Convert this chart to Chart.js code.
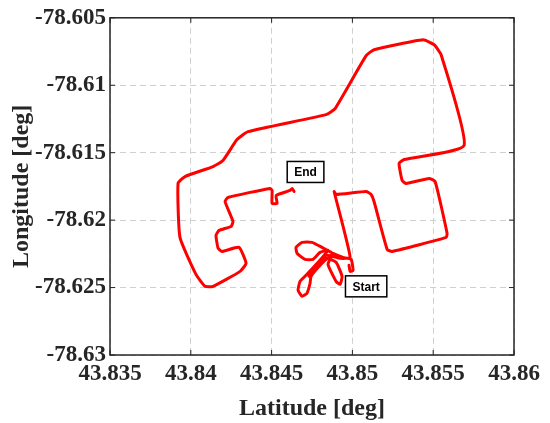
<!DOCTYPE html>
<html>
<head>
<meta charset="utf-8">
<script src="https://cdn.jsdelivr.net/npm/chart.js@4"></script>
<style>
  body { margin: 0; background: #fff; }
  #wrap { width: 550px; height: 423px; position: relative; }
</style>
</head>
<body>
<div id="wrap"><canvas id="trackChart"></canvas></div>
<script>
// GPS track
const latitude = [
  43.84979, 43.84986, 43.85004, 43.84992, 43.84942, 43.84880, 43.84812, 43.84750,
  43.84689, 43.84651, 43.84658, 43.84707, 43.84757, 43.84800, 43.84849,
  43.84788, 43.84713, 43.84676, 43.84664, 43.84689, 43.84719, 43.84738, 43.84744,
  43.84812, 43.84874,
  43.84849, 43.84899, 43.84924, 43.84936, 43.84899, 43.84837,
  43.84763, 43.84732, 43.84775, 43.84837, 43.84924, 43.84986,
  43.84887, 43.84899, 43.85085, 43.85116, 43.85134, 43.85215, 43.85246,
  43.85580, 43.85586, 43.85512, 43.85475, 43.85332, 43.85308, 43.85289, 43.85320,
  43.85691, 43.85549, 43.85506, 43.85437, 43.85134, 43.85085, 43.84893, 43.84837,
  43.84354, 43.84286, 43.84199, 43.84138, 43.83964, 43.83921, 43.83933, 43.84032,
  43.84088, 43.84138, 43.84305, 43.84342, 43.84298, 43.84193, 43.84169, 43.84156,
  43.84175, 43.84249, 43.84261, 43.84212, 43.84230, 43.84490, 43.84503, 43.84503,
  43.84534, 43.84528, 43.84614, 43.84627, 43.84639
];
const longitude = [
  -78.62335, -78.62380, -78.62372, -78.62291, -78.62276, -78.62246, -78.62202, -78.62165,
  -78.62165, -78.62202, -78.62246, -78.62291, -78.62291, -78.62239, -78.62224,
  -78.62313, -78.62409, -78.62454, -78.62520, -78.62565, -78.62542, -78.62468, -78.62417,
  -78.62320, -78.62254,
  -78.62328, -78.62454, -78.62476, -78.62417, -78.62313, -78.62283,
  -78.62372, -78.62417, -78.62343, -78.62261, -78.62283, -78.62276,
  -78.61788, -78.61810, -78.61788, -78.61810, -78.61862, -78.62217, -78.62232,
  -78.62128, -78.62098, -78.61714, -78.61691, -78.61728, -78.61706, -78.61580, -78.61551,
  -78.61447, -78.60774, -78.60700, -78.60663, -78.60737, -78.60781, -78.61173, -78.61218,
  -78.61344, -78.61403, -78.61558, -78.61603, -78.61677, -78.61728, -78.62128, -78.62402,
  -78.62491, -78.62491, -78.62380, -78.62320, -78.62202, -78.62232, -78.62209, -78.62113,
  -78.62076, -78.62047, -78.62010, -78.61862, -78.61832, -78.61765, -78.61780, -78.61876,
  -78.61876, -78.61817, -78.61780, -78.61765, -78.61788
];

const xTickValues = [43.835, 43.84, 43.845, 43.85, 43.855, 43.86];
const xTickLabels = ['43.835', '43.84', '43.845', '43.85', '43.855', '43.86'];
const yTickValues = [-78.63, -78.625, -78.62, -78.615, -78.61, -78.605];
const yTickLabels = ['-78.63', '-78.625', '-78.62', '-78.615', '-78.61', '-78.605'];

const noteText = ['End', 'Start'];
const noteLat = [43.84710, 43.85085];
const noteLon = [-78.61643, -78.62491];

const serif = "'Liberation Serif', 'Times New Roman', serif";
const ink = '#262626';

const points = latitude.map((lat, i) => ({ x: lat, y: longitude[i] }));

// frame, inward ticks and the two text boxes
const framePlugin = {
  id: 'frame',
  afterDraw(chart) {
    const { ctx, chartArea: a, scales } = chart;
    ctx.save();
    ctx.strokeStyle = ink;
    ctx.lineWidth = 1.5;
    ctx.strokeRect(a.left, a.top, a.right - a.left, a.bottom - a.top);
    ctx.lineWidth = 1;
    ctx.beginPath();
    xTickValues.forEach(v => {
      const px = scales.x.getPixelForValue(v);
      ctx.moveTo(px, a.bottom); ctx.lineTo(px, a.bottom - 5);
      ctx.moveTo(px, a.top); ctx.lineTo(px, a.top + 5);
    });
    yTickValues.forEach(v => {
      const py = scales.y.getPixelForValue(v);
      ctx.moveTo(a.left, py); ctx.lineTo(a.left + 5, py);
      ctx.moveTo(a.right, py); ctx.lineTo(a.right - 5, py);
    });
    ctx.stroke();

    ctx.font = "bold 12px 'Liberation Sans', Arial, sans-serif";
    ctx.textAlign = 'center';
    ctx.textBaseline = 'middle';
    noteText.forEach((t, i) => {
      const cx = scales.x.getPixelForValue(noteLat[i]);
      const cy = scales.y.getPixelForValue(noteLon[i]);
      const w = ctx.measureText(t).width + 14;
      const h = 21;
      ctx.fillStyle = '#fff';
      ctx.fillRect(cx - w / 2, cy - h / 2, w, h);
      ctx.strokeStyle = '#000';
      ctx.lineWidth = 1.5;
      ctx.strokeRect(cx - w / 2, cy - h / 2, w, h);
      ctx.fillStyle = '#000';
      ctx.fillText(t, cx, cy + 1);
    });
    ctx.restore();
  }
};

new Chart(document.getElementById('trackChart').getContext('2d'), {
  type: 'scatter',
  data: {
    datasets: [{
      data: points,
      showLine: true,
      borderColor: '#ff0000',
      borderWidth: 3,
      pointRadius: 0,
      borderJoinStyle: 'round',
      borderCapStyle: 'round',
      tension: 0.15
    }]
  },
  options: {
    responsive: true,
    maintainAspectRatio: false,
    animation: false,
    layout: { padding: { top: 17, right: 36, left: 0, bottom: 0 } },
    plugins: { legend: { display: false }, tooltip: { enabled: false } },
    scales: {
      x: {
        type: 'linear',
        min: 43.835,
        max: 43.86,
        afterBuildTicks: s => { s.ticks = xTickValues.map(v => ({ value: v })); },
        afterFit: s => { s.height = 68; },
        ticks: {
          autoSkip: false,
          maxRotation: 0,
          padding: 5,
          color: ink,
          font: { family: serif, size: 23, weight: 'bold' },
          callback: (v, i) => xTickLabels[i]
        },
        grid: { color: '#cfcfcf', lineWidth: 1, drawTicks: false },
        border: { display: false, dash: [6, 4] },
        title: {
          display: true,
          text: 'Latitude [deg]',
          color: ink,
          font: { family: serif, size: 24, weight: 'bold', lineHeight: 1 },
          padding: { top: 0, bottom: 2 }
        }
      },
      y: {
        type: 'linear',
        min: -78.63,
        max: -78.605,
        afterBuildTicks: s => { s.ticks = yTickValues.map(v => ({ value: v })); },
        afterFit: s => { s.width = 110; },
        ticks: {
          autoSkip: false,
          padding: 4,
          color: ink,
          font: { family: serif, size: 23, weight: 'bold' },
          callback: (v, i) => yTickLabels[i]
        },
        grid: { color: '#cfcfcf', lineWidth: 1, drawTicks: false },
        border: { display: false, dash: [6, 4] },
        title: {
          display: true,
          text: 'Longitude [deg]',
          color: ink,
          font: { family: serif, size: 24, weight: 'bold', lineHeight: 1 },
          padding: { top: 10, bottom: 0 }
        }
      }
    }
  },
  plugins: [framePlugin]
});
</script>
</body>
</html>
